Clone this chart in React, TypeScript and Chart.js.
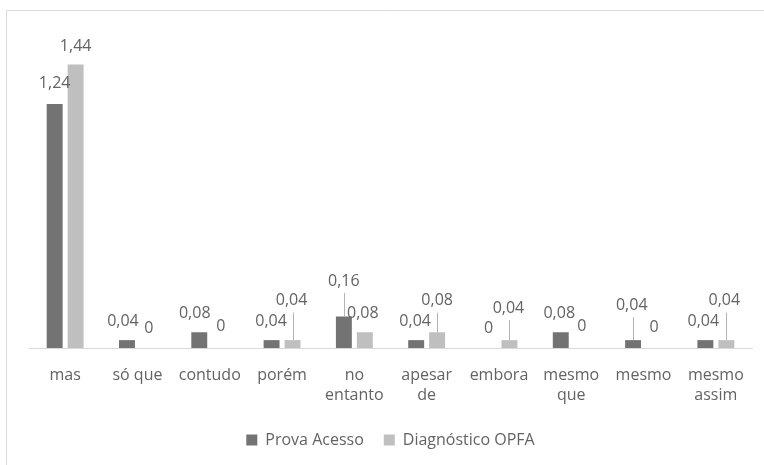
import React, { useEffect, useRef } from "react";
import { Chart, registerables } from "chart.js";

Chart.register(...registerables);

// Connectives (x categories); multi-line ones are split over two rows.
const categories: (string | string[])[] = [
  "mas",
  "só que",
  "contudo",
  "porém",
  ["no", "entanto"],
  ["apesar", "de"],
  "embora",
  ["mesmo", "que"],
  "mesmo",
  ["mesmo", "assim"],
];

const seriesNames = ["Prova Acesso", "Diagnóstico OPFA"];

const provaAcesso = [1.24, 0.04, 0.08, 0.04, 0.16, 0.04, 0, 0.08, 0.04, 0.04];
const diagnosticoOPFA = [1.44, 0, 0, 0.04, 0.08, 0.08, 0.04, 0, 0, 0.04];

// Layout of the value labels: horizontal nudge and height above the bar top (px).
// Labels lifted well above their bar get a leader line down to it.
const provaLabelDx = [0, -4, -4.5, -0.5, 0, -1, 0, -1.5, -1.3, -2];
const provaLabelRise = [21, 20, 20, 20, 36.5, 20, 21, 20, 36, 20];
const opfaLabelDx = [0, 1, 0.7, -1, -2, 0, -1, 0, 0, -2];
const opfaLabelRise = [19, 21, 23, 40.5, 20, 32.5, 33, 23, 22, 40.5];

const FONT_FAMILY = "'Open Sans', sans-serif";
const TEXT_COLOR = "#636363";
const DARK = "#737373";
const LIGHT = "#bfbfbf";

const formatValue = (v: number) => String(v).replace(".", ",");

const framePlugin = {
  id: "frame",
  beforeDraw(chart: Chart) {
    const ctx = chart.ctx;
    ctx.save();
    ctx.fillStyle = "#ffffff";
    ctx.fillRect(0, 0, chart.width, chart.height);
    ctx.strokeStyle = "#d9d9d9";
    ctx.lineWidth = 1;
    ctx.beginPath();
    ctx.moveTo(6.5, chart.height);
    ctx.lineTo(6.5, 10.5);
    ctx.lineTo(chart.width, 10.5);
    ctx.stroke();
    ctx.restore();
  },
};

const valueLabelPlugin = {
  id: "valueLabels",
  afterDatasetsDraw(chart: Chart) {
    const ctx = chart.ctx;
    const dxs = [provaLabelDx, opfaLabelDx];
    const rises = [provaLabelRise, opfaLabelRise];
    ctx.save();
    ctx.font = `16px ${FONT_FAMILY}`;
    ctx.fillStyle = TEXT_COLOR;
    ctx.textAlign = "center";
    ctx.textBaseline = "middle";
    chart.data.datasets.forEach((ds, di) => {
      const meta = chart.getDatasetMeta(di);
      meta.data.forEach((bar: any, i: number) => {
        const value = ds.data[i] as number;
        const rise = rises[di][i];
        const x = bar.x + dxs[di][i];
        const y = bar.y - rise;
        ctx.fillText(formatValue(value), x, y + 1);
        if (rise > 30) {
          ctx.save();
          ctx.strokeStyle = "#b3b3b3";
          ctx.lineWidth = 1;
          ctx.beginPath();
          const lx = Math.round(bar.x) + 0.5;
          ctx.moveTo(lx, y + 13);
          ctx.lineTo(lx, bar.y);
          ctx.stroke();
          ctx.restore();
        }
      });
    });
    ctx.restore();
  },
};

export default function App() {
  const canvasRef = useRef<HTMLCanvasElement | null>(null);

  useEffect(() => {
    if (!canvasRef.current) return;
    const chart = new Chart(canvasRef.current, {
      type: "bar",
      data: {
        labels: categories,
        datasets: [
          {
            label: seriesNames[0],
            data: provaAcesso,
            backgroundColor: DARK,
            borderWidth: 0,
            categoryPercentage: 0.58,
            barPercentage: 0.76,
          },
          {
            label: seriesNames[1],
            data: diagnosticoOPFA,
            backgroundColor: LIGHT,
            borderWidth: 0,
            categoryPercentage: 0.58,
            barPercentage: 0.76,
          },
        ],
      },
      options: {
        responsive: false,
        animation: false,
        events: [],
        layout: { padding: { left: 29, right: 12, top: 33, bottom: 7 } },
        plugins: {
          legend: {
            position: "bottom",
            labels: {
              boxWidth: 11,
              boxHeight: 11,
              padding: 20,
              color: TEXT_COLOR,
              font: { family: FONT_FAMILY, size: 16 },
            },
          },
          tooltip: { enabled: false },
          title: { display: false },
        },
        scales: {
          x: {
            grid: { display: false, drawTicks: false },
            border: { display: true, color: "#d9d9d9", width: 1 },
            ticks: {
              color: TEXT_COLOR,
              font: { family: FONT_FAMILY, size: 16, lineHeight: 1.25 },
              padding: 17,
              autoSkip: false,
              maxRotation: 0,
              minRotation: 0,
            },
            afterFit(scale: any) {
              scale.height = 64;
            },
          },
          y: { display: false, min: 0, max: 1.6 },
        },
      },
      plugins: [framePlugin, valueLabelPlugin],
    });
    return () => chart.destroy();
  }, []);

  return (
    <div style={{ position: "fixed", left: 0, top: 0, width: 764, height: 465 }}>
      <canvas ref={canvasRef} width={764} height={465} style={{ display: "block" }} />
    </div>
  );
}
